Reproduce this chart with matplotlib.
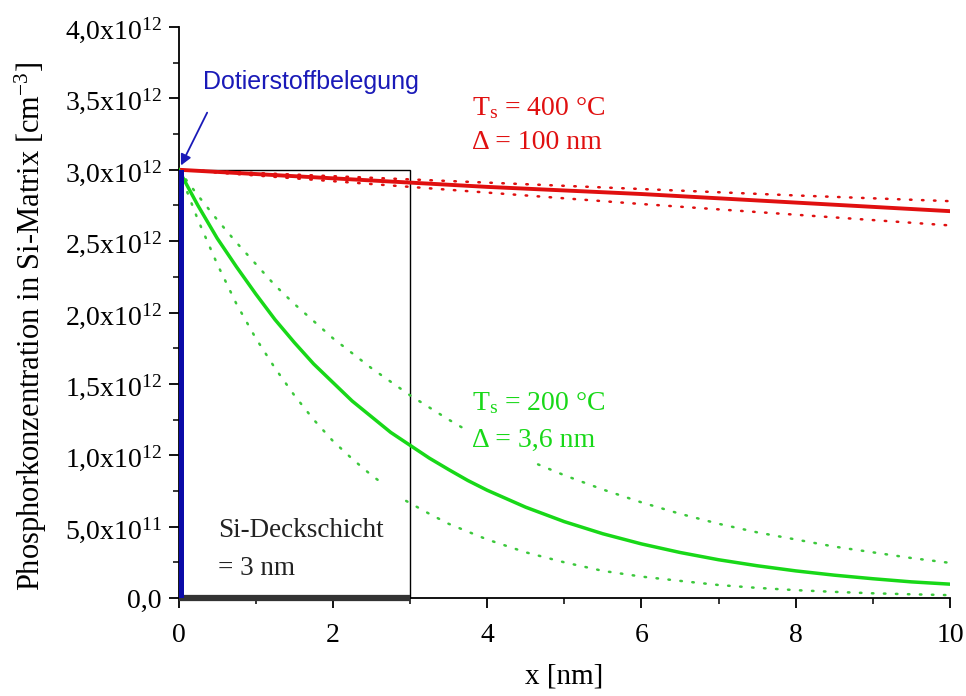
import numpy as np
import matplotlib
matplotlib.use("Agg")
import matplotlib.pyplot as plt
from matplotlib.patches import Rectangle
from matplotlib.ticker import FixedLocator, MultipleLocator

plt.rcParams["font.family"] = ["Liberation Serif", "DejaVu Serif"]
plt.rcParams["mathtext.fontset"] = "custom"
plt.rcParams["mathtext.rm"] = "Liberation Serif"
plt.rcParams["mathtext.it"] = "Liberation Serif:italic"

# ---- data (concentration in units of 1e12 cm^-3) ----
x_red = [0, 2, 4, 6, 8, 10]
red_main = [3.00, 2.94, 2.88, 2.83, 2.77, 2.71]
red_upper = [3.00, 2.955, 2.91, 2.865, 2.82, 2.78]
red_lower = [3.00, 2.92, 2.84, 2.76, 2.685, 2.61]

x_green = [0, 0.25, 0.5, 0.75, 1, 1.25, 1.5, 1.75, 2, 2.25, 2.5, 2.75, 3,
           3.25, 3.5, 3.75, 4, 4.5, 5, 5.5, 6, 6.5, 7, 7.5, 8, 8.5, 9, 9.5, 10]
green_main = [3.00, 2.75, 2.52, 2.32, 2.13, 1.95, 1.79, 1.64, 1.51, 1.38,
              1.27, 1.16, 1.07, 0.98, 0.90, 0.823, 0.755, 0.636, 0.535, 0.450,
              0.379, 0.319, 0.268, 0.226, 0.190, 0.160, 0.135, 0.113, 0.097]

x_green_up = [0, 0.25, 0.5, 0.75, 1, 1.25, 1.5, 1.75, 2, 2.5, 3, 3.5, 3.72,
              4.2, 4.66, 5, 5.5, 6, 6.5, 7, 7.5, 8, 8.5, 9, 9.5, 10]
green_upper = [3.00, 2.82, 2.65, 2.49, 2.34, 2.19, 2.06, 1.94, 1.82, 1.61,
               1.42, 1.25, 1.18, np.nan, 0.936, 0.86, 0.76, 0.67, 0.59, 0.52,
               0.46, 0.41, 0.36, 0.32, 0.28, 0.246]

x_green_lo = [0, 0.25, 0.5, 0.75, 1, 1.25, 1.5, 1.75, 2, 2.25, 2.5, 2.65,
              2.8, 2.95, 3.25, 3.5, 4, 4.5, 5, 5.5, 6, 6.5, 7, 7.5, 8, 8.5, 9,
              9.5, 10]
green_lower = [3.00, 2.65, 2.34, 2.06, 1.82, 1.61, 1.42, 1.25, 1.10, 0.975,
               0.86, 0.80, np.nan, 0.68, 0.59, 0.52, 0.41, 0.32, 0.25, 0.19,
               0.15, 0.12, 0.091, 0.071, 0.055, 0.043, 0.033, 0.026, 0.020]

surface_conc = 3.0      # dopant layer at x = 0
cap_thickness = 3.0     # Si cap layer, nm

y_ticks = [0.0, 0.5, 1.0, 1.5, 2.0, 2.5, 3.0, 3.5, 4.0]
y_tick_labels = ["0,0", "5,0x10$^{\\mathregular{11}}$"] + [
    f"{v:.1f}".replace(".", ",") + "x10$^{\\mathregular{12}}$" for v in y_ticks[2:]]
x_ticks = [0, 2, 4, 6, 8, 10]

# ---- figure ----
fig = plt.figure(figsize=(9.66, 6.96), dpi=100)
ax = fig.add_axes([0.1849, 0.1408, 0.7985, 0.8204])

RED = "#e01010"
GREEN = "#18d818"
GREEN_DOT = "#3cc83c"
BLUE = "#0a0aa8"
TXT_BLUE = "#1a1ab8"

dots = (0, (0.6, 4.2))
ax.plot(x_red, red_upper, color=RED, lw=1.8, ls=dots, dash_capstyle="round", zorder=3)
ax.plot(x_red, red_lower, color=RED, lw=1.8, ls=dots, dash_capstyle="round", zorder=3)
ax.plot(x_red, red_main, color=RED, lw=2.8, zorder=4)

ax.plot(x_green_up, green_upper, color=GREEN_DOT, lw=1.8, ls=dots, dash_capstyle="round", zorder=3)
ax.plot(x_green_lo, green_lower, color=GREEN_DOT, lw=1.8, ls=dots, dash_capstyle="round", zorder=3)
ax.plot(x_green, green_main, color=GREEN, lw=2.5, zorder=4)

# Si cap layer frame and its base
ax.add_patch(Rectangle((0, 0), cap_thickness, surface_conc, fill=False,
                       edgecolor="black", lw=1.0, zorder=2))
ax.plot([0, cap_thickness], [0, 0], color="#333333", lw=4.5,
        solid_capstyle="butt", clip_on=False, zorder=5)

# dopant layer at the interface
ax.bar([0], [surface_conc], width=0.065, align="edge", color=BLUE,
       edgecolor="none", zorder=6, clip_on=False)

ax.set_xlim(0, 10)
ax.set_ylim(0, 4.0)

ax.spines["top"].set_visible(False)
ax.spines["right"].set_visible(False)
for s in ("left", "bottom"):
    ax.spines[s].set_linewidth(1.3)

ax.xaxis.set_major_locator(FixedLocator(x_ticks))
ax.xaxis.set_minor_locator(MultipleLocator(1))
ax.yaxis.set_major_locator(FixedLocator(y_ticks))
ax.yaxis.set_minor_locator(MultipleLocator(0.25))
ax.set_yticklabels(y_tick_labels)
ax.set_xticklabels([str(t) for t in x_ticks])
ax.tick_params(which="major", direction="out", length=7, width=1.3, labelsize=20, pad=5)
ax.tick_params(axis="x", which="major", pad=11)
ax.tick_params(which="minor", direction="out", length=4, width=1.1)

ax.set_xlabel("x [nm]", fontsize=21)
ax.xaxis.set_label_coords(0.5, -0.115)
ax.set_ylabel("Phosphorkonzentration in Si-Matrix [cm$^{\\mathregular{-3}}$]",
              fontsize=22)
ax.yaxis.set_label_coords(-0.168, 0.475)

fs = 20
ax.text(3.8, 3.43, "T$_{\\mathregular{s}}$ = 400 °C", color=RED, fontsize=fs, va="center")
ax.text(3.8, 3.19, "Δ = 100 nm", color=RED, fontsize=fs, va="center")
ax.text(3.8, 1.366, "T$_{\\mathregular{s}}$ = 200 °C", color=GREEN, fontsize=fs, va="center")
ax.text(3.8, 1.107, "Δ = 3,6 nm", color=GREEN, fontsize=fs, va="center")
ax.text(0.51, 0.476, "Si-Deckschicht", color="#222222", fontsize=19.5, va="center")
ax.text(0.51, 0.21, "= 3 nm", color="#222222", fontsize=19.5, va="center")

ax.text(0.32, 3.615, "Dotierstoffbelegung", color=TXT_BLUE, fontsize=18,
        family=["Liberation Sans", "DejaVu Sans"], va="center", ha="left")
ax.annotate("", xy=(0.03, 3.03), xytext=(0.37, 3.40),
            arrowprops=dict(arrowstyle="-|>", color=TXT_BLUE, lw=1.3,
                            mutation_scale=16, shrinkA=0, shrinkB=0),
            zorder=7)

fig.savefig("out.png", dpi=100, facecolor="white")
